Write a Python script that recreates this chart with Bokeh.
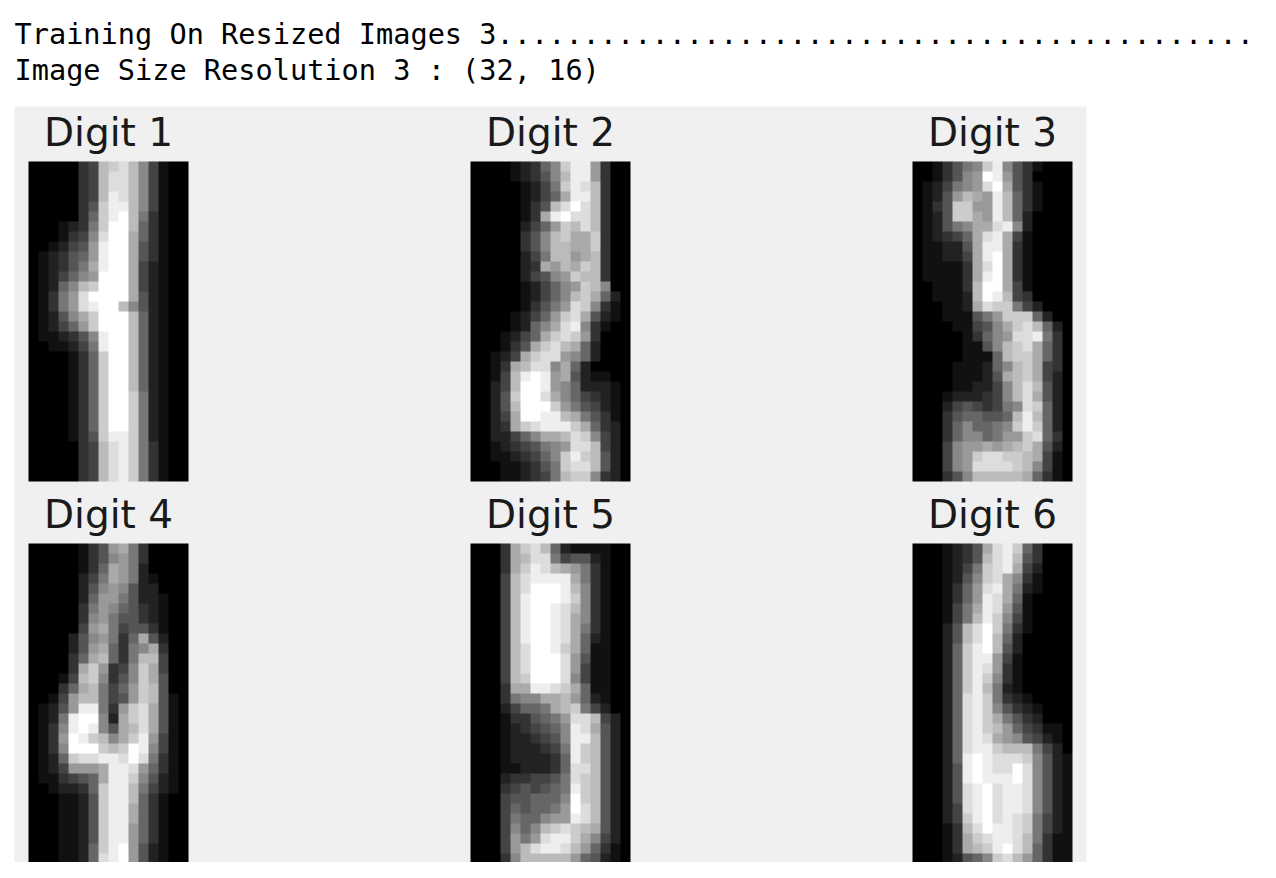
import numpy as np
from bokeh.plotting import figure
from bokeh.models import Range1d
from bokeh.core.properties import value
from bokeh.embed import file_html
from bokeh.resources import INLINE

header_lines = ["Training On Resized Images 3" + "." * 44,
                "Image Size Resolution 3 : (32, 16)"]
titles = ["Digit 1", "Digit 2", "Digit 3", "Digit 4", "Digit 5", "Digit 6"]

# 32 x 16 grey levels per digit, one hex char per pixel (0 = black, f = white)
digit_1 = ["0000034bcdb84100", "0000034bddb84100", "0000034bddb84100", "0000034bedb84100",
           "0000035ceeb84100", "0000036cefb73100", "0001237cffb63100", "0001348dffa63100",
           "0012459effa53100", "0123569effa53100", "012357aeffa42100", "0124689fffa42100",
           "01268bcfffa42100", "01379dffffa52100", "01379deffb852100", "01258acfffb62100",
           "012469cfffb62100", "0112358effb62100", "0011247effb62100", "0000136cffb62100",
           "0000136cffb62100", "0000136cffb62100", "0000136cffb62100", "0000136cffc72100",
           "0000136cffc72100", "0000136cffc72100", "0000136cffc72100", "0000135ceec72100",
           "0000034bdec73100", "0000034bdec73100", "0000034bdec73100", "0000034bdec73100"]
digit_2 = ["000012368cee9300", "000012358bee9300", "000001247cedb300", "000001246aeeb300",
           "00000135bdfdb300", "0000013aefddb300", "000002469cbdb300", "00000358bcaac300",
           "00000358bbaac300", "00000247bb9ab300", "0000023a9bacb300", "0000024589cbb300",
           "00000124689cb800", "0000012468bca620", "0000013579dc8310", "000012469cda5210",
           "00001268ade83100", "0001246acdc93000", "000135acdba62000", "00124acdd9862000",
           "0013abdd8a620000", "0014befe9a521100", "0024bffe98622210", "0025cffda8643210",
           "0025bfffc9754210", "0024affeeba75310", "0023acdeeeca6320", "0022468aabdc8420",
           "0012345789ddb420", "001123468cecb520", "000112357cddb520", "000112347bcc8320"]
digit_3 = ["0013578ce8531000", "0013589fe9530000", "0124789dfa531000", "01259ba9eb631000",
           "0135cc99eb631000", "0125cca9eb620000", "012578aade820000", "012346adea410000",
           "011225aeea310000", "011224aefa310000", "011113adfa310000", "011113aefa310000",
           "001113bffa410000", "001112bfeb430000", "000112adcc742000", "000111579ccc6200",
           "000011458acdb620", "0000013689dde730", "000001158bcda630", "000001116bcca630",
           "0000111268bca430", "000011125abca420", "0000112248bdb520", "0001222348bda520",
           "00024543478dc620", "0003566556beb620", "0003686678cec620", "00036886799cd630",
           "0004899a9abca520", "000489cddccba410", "000489ddddcb8410", "000358bbbbba6310"]
digit_4 = ["000001359a730000", "0000013589730000", "00000136a9720000", "00000247a9721000",
           "0000025898522000", "0000026997522100", "0000037986532100", "0000038975532100",
           "0000049a74553100", "00002589736a5200", "0000259a6378a300", "000036ab637bb400",
           "00003ac9348ca400", "00014bc8358ca500", "00036ab7469cb500", "00149bb7459cb510",
           "01259ee739cda510", "0127eff82acda510", "0138efe85abda510", "0139fecb8ace9410",
           "0138fffcbcfe8410", "0126cddeedfd7310", "0124999aeed96310", "0113456aeec85210",
           "0012236ceeb74210", "0001125ceeb63100", "0001125ceea63100", "0001125ceea63100",
           "0001125cee963100", "0001125cee963100", "0001126cef952100", "0001126def952100"]
digit_5 = ["0003acdb62111100", "0003abdd74552100", "0003acedba973100", "0004bdeeeea73100",
           "0004bdfffeb83100", "0004befffec83100", "0004beffedb83100", "0004beffeda83100",
           "0004beffeda73100", "0004beffeda62100", "0004bdffeca61100", "0004bdfffd951100",
           "0004bdfffd941100", "0004bcfffd841100", "0003aaeedca61100", "0003788aab962100",
           "00024667abc74200", "0001335679ddb420", "0001234568eda520", "0001223458eeb520",
           "0001222347ecb520", "0001222236ecb520", "0001122236ddb520", "0002334457dcb520",
           "0003454567ecb520", "0004556668fcb520", "0004656679fdb520", "0004766899edb520",
           "0004868bcdcba520", "0004979deeca8420", "00049bdeedb96310", "00038bbbbb965210"]
digit_6 = ["0001235adec63000", "0001235bdeb53000", "0001247cdea42000", "0001258cda831000",
           "0001369dea721000", "0001369eda610000", "000147aed9510000", "000147bec8410000",
           "00025bdfc7310000", "00025bdfb6200000", "00026cefb5200000", "00026cee94100000",
           "00026ced93100000", "00026cec83100000", "00026ceb72100000", "00026dec73210000",
           "00026dec85321000", "00026deca7532000", "00026decb9643110", "00026deda9854210",
           "00026deecbbb7420", "00026efedddc8521", "00025efeddfd8521", "00025efeeefd8521",
           "00025defdeed8521", "00025defdeed8521", "00024defdeed8521", "00024cefdedc7421",
           "00013bdfeedc7421", "00013acdeedb7311", "00013abcefdb6311", "00012568cdb96311"]
digits = [digit_1, digit_2, digit_3, digit_4, digit_5, digit_6]

H = 878  # page height, y measured downwards from the page top


def to_array(rows):
    a = np.array([[int(c, 16) for c in r.ljust(16, "0")[:16]] for r in rows], dtype=float)
    return np.flipud(a)


p = figure(width=1260, height=862, output_backend="svg", toolbar_location=None,
           x_range=Range1d(0, 1260), y_range=Range1d(H - 862, H),
           min_border=0, outline_line_color=None)
p.axis.visible = False
p.grid.visible = False
p.background_fill_color = "white"
p.border_fill_color = "white"

for i, line in enumerate(header_lines):
    p.text(x=[14], y=[H - 16 - 36 * i], text=[line], text_font=value("DejaVu Sans Mono"),
           text_font_size="28.6px", text_baseline="top", text_color="black")

p.quad(left=[14], right=[1086], top=[H - 106], bottom=[H - 876],
       fill_color="#f0f0f0", line_color=None)

col_x = [28, 470, 912]
row_y = [161, 543]
for k, rows in enumerate(digits):
    x0 = col_x[k % 3]
    y0 = row_y[k // 3]
    p.image(image=[to_array(rows)], x=x0, y=H - y0 - 320, dw=160, dh=320,
            palette="Greys256")
    p.text(x=[x0 + 80], y=[H - y0 + 7], text=[titles[k]], text_font=value("DejaVu Sans"),
           text_font_size="39px", text_align="center", text_baseline="bottom",
           text_color="#1a1a1a")

open("out.html", "w").write(file_html(p, INLINE))
